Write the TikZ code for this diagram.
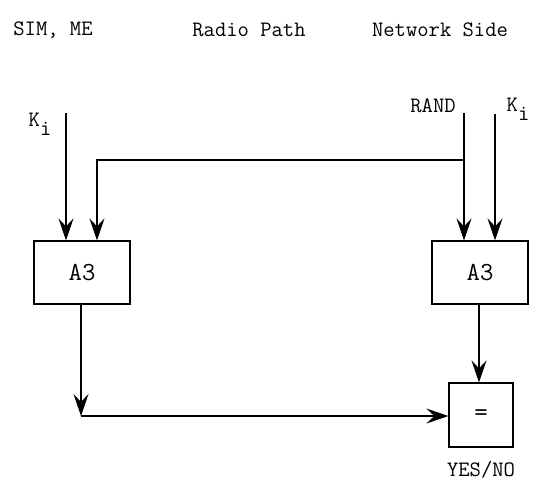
\documentclass[tikz,border=0pt]{standalone}
\usetikzlibrary{arrows.meta}
\tikzset{
  lbl/.style={font=\fontsize{22}{24}\selectfont\ttfamily, inner sep=0pt},
  blockbox/.style={draw, line width=1.2pt, minimum width=96pt, minimum height=63pt, font=\fontsize{26}{28}\selectfont\ttfamily, inner sep=0pt},
  eqbox/.style={draw, line width=1.2pt, minimum width=64pt, minimum height=64pt, font=\fontsize{26}{28}\selectfont\ttfamily, inner sep=0pt},
  conn/.style={line width=1.1pt},
  arr/.style={conn, -{Stealth[length=22pt,width=15pt,inset=8pt]}},
}
\newcommand{\Ksub}{K\raisebox{-0.4em}{i}}
\begin{document}
\begin{tikzpicture}[x=1pt,y=-1pt]
\fill[white] (0,0) rectangle (559,482);
\useasboundingbox (0,0) rectangle (559,482);
% headers
\node[lbl] (hsim) at (53,30) {SIM, ME};
\node[lbl] (hradio) at (249,30) {Radio Path};
\node[lbl] (hnet) at (440,30) {Network Side};
% boxes
\node[blockbox] (lbox) at (82,272.5) {A3};
\node[blockbox] (rbox) at (480,272.5) {A3};
\node[eqbox] (eq) at (481,415) {=};
% labels
\node[lbl] (kl) at (40,124) {\Ksub};
\node[lbl] (rand) at (433,106) {RAND};
\node[lbl] (kr) at (518,109) {\Ksub};
\node[lbl] (yesno) at (481,470) {YES/NO};
% coordinates
\coordinate (klstart) at (66,113);
\coordinate (randstart) at (464,113);
\coordinate (krstart) at (495,114);
\coordinate (junc) at (464,160);
\coordinate (lcorner) at (97,160);
\coordinate (bcorner) at (81,416);
\coordinate (rdown) at (479,0);
% connectors
\draw[arr] (klstart) -- (klstart |- lbox.north);
\draw[arr] (randstart) -- (randstart |- rbox.north);
\draw[arr] (krstart) -- (krstart |- rbox.north);
\draw[arr] (junc) -- (lcorner) -- (lcorner |- lbox.north);
\draw[arr] (bcorner |- lbox.south) -- (bcorner);
\draw[arr] (bcorner) -- (eq.west |- bcorner);
\draw[arr] (rdown |- rbox.south) -- (rdown |- eq.north);
\end{tikzpicture}
\end{document}
